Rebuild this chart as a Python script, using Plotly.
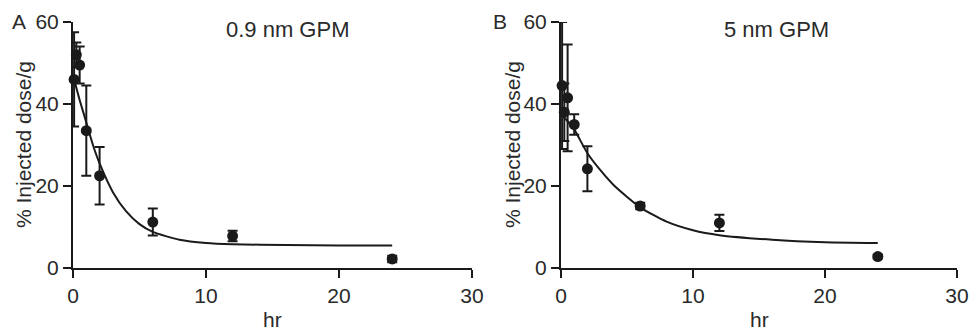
import plotly.graph_objects as go

# ---- data ----
time_hr = [0.083, 0.25, 0.5, 1, 2, 6, 12, 24]

dose_A = [46, 52, 49.5, 33.5, 22.5, 11.2, 7.8, 2.2]
err_A = [11.5, 3, 4.5, 11, 7, 3.3, 1.3, 0.8]

dose_B = [44.5, 38, 41.5, 35, 24.2, 15.1, 11, 2.8]
err_B = [15.5, 7, 13, 2.5, 5.5, 0.8, 2, 0.5]

fit_t_A = [0, 0.5, 1, 1.5, 2, 3, 4, 5, 6, 8, 10, 12, 16, 20, 24]
fit_v_A = [47, 41, 35.5, 30, 25.5, 18.5, 13.8, 10.7, 8.8, 6.9, 6.1, 5.8, 5.6, 5.5, 5.5]

fit_t_B = [0, 0.5, 1, 2, 3, 4, 6, 8, 10, 12, 16, 20, 24]
fit_v_B = [37.5, 35.8, 33.8, 28, 23.8, 20.2, 14.8, 11.3, 9.2, 8, 6.9, 6.3, 6.1]

x_ticks = [0, 10, 20, 30]
y_ticks = [0, 20, 40, 60]
titles = ["0.9 nm GPM", "5 nm GPM"]
panel_letters = ["A", "B"]

# page is 979x335 but the html body has an 8px margin; lay out in page pixels
PAGE_W, PAGE_H = 979, 335
OFF = 8
W, H = PAGE_W - OFF, PAGE_H - OFF


def px_x(x):
    return (x - OFF) / W


def px_y(y):
    return 1 - (y - OFF) / H


FONT = "Liberation Sans, Arial, sans-serif"
INK = "#1a1a1a"
TXT = "#2a2a2a"

fig = go.Figure()

panels = [
    ("x", "y", dose_A, err_A, fit_t_A, fit_v_A),
    ("x2", "y2", dose_B, err_B, fit_t_B, fit_v_B),
]
for xa, ya, v, e, ft, fv in panels:
    fig.add_trace(go.Scatter(
        x=ft, y=fv, mode="lines", line=dict(color=INK, width=2, shape="spline", smoothing=0.6),
        xaxis=xa, yaxis=ya, showlegend=False, hoverinfo="skip"))
    fig.add_trace(go.Scatter(
        x=time_hr, y=v, mode="markers",
        marker=dict(color=INK, size=11, symbol="circle"),
        error_y=dict(type="data", array=e, visible=True, color=INK, thickness=2, width=5),
        cliponaxis=False, xaxis=xa, yaxis=ya, showlegend=False))

ydom = [px_y(268), px_y(22)]
domA = [px_x(73), px_x(472)]
domB = [px_x(561), px_x(957)]

axis_common = dict(showline=True, linecolor=INK, linewidth=2, ticks="outside",
                   ticklen=8, tickwidth=2, tickcolor=INK, showgrid=False, zeroline=False,
                   automargin=False,
                   tickfont=dict(family=FONT, size=21, color=TXT), fixedrange=True)

fig.update_layout(
    width=W, height=H,
    margin=dict(l=0, r=0, t=0, b=0),
    paper_bgcolor="white", plot_bgcolor="white",
    font=dict(family=FONT, color=TXT),
    xaxis=dict(domain=domA, range=[0, 30], tickvals=x_ticks, anchor="y", **axis_common),
    yaxis=dict(domain=ydom, range=[0, 60], tickvals=y_ticks, anchor="x", **axis_common),
    xaxis2=dict(domain=domB, range=[0, 30], tickvals=x_ticks, anchor="y2", **axis_common),
    yaxis2=dict(domain=ydom, range=[0, 60], tickvals=y_ticks, anchor="x2", **axis_common),
)

ann = []
for i, (dom, yx) in enumerate([(domA, 23), (domB, 512)]):
    cx = (dom[0] + dom[1]) / 2
    # x-axis title
    ann.append(dict(text="hr", xref="paper", yref="paper", x=cx, y=px_y(319),
                    showarrow=False, font=dict(family=FONT, size=21, color=TXT),
                    xanchor="center", yanchor="middle"))
    # y-axis title
    ann.append(dict(text="% Injected dose/g", xref="paper", yref="paper", x=px_x(yx),
                    y=px_y(145), textangle=-90, showarrow=False,
                    font=dict(family=FONT, size=21, color=TXT),
                    xanchor="center", yanchor="middle"))
    # panel letter
    ann.append(dict(text=panel_letters[i], xref="paper", yref="paper",
                    x=px_x(19 if i == 0 else 500), y=px_y(21), showarrow=False,
                    font=dict(family=FONT, size=21, color=TXT),
                    xanchor="center", yanchor="middle"))
    # panel title
    ann.append(dict(text=titles[i], xref="paper", yref="paper",
                    x=px_x(287 if i == 0 else 776), y=px_y(29), showarrow=False,
                    font=dict(family=FONT, size=22, color=TXT),
                    xanchor="center", yanchor="middle"))
fig.update_layout(annotations=ann)

fig.write_html("out.html")
